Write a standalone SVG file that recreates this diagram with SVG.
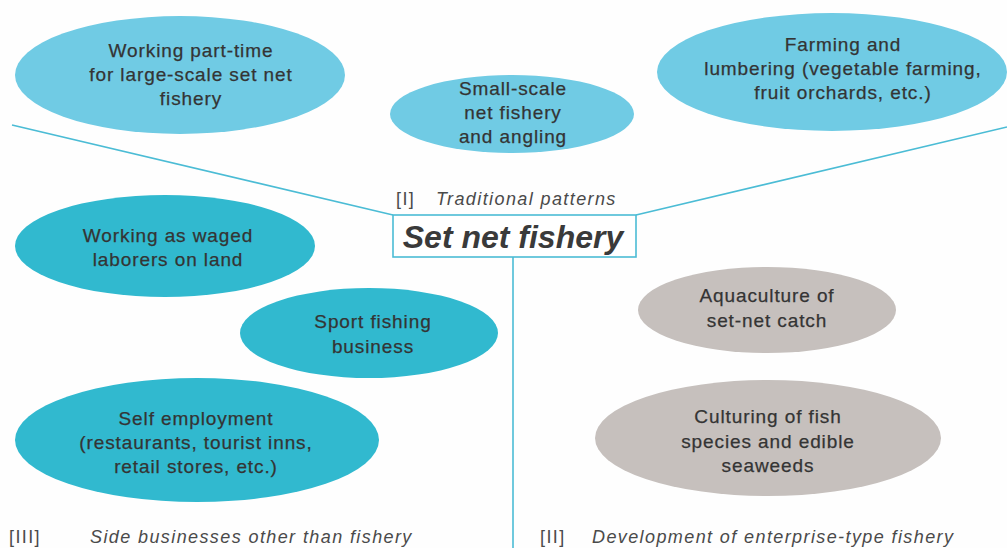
<svg xmlns="http://www.w3.org/2000/svg" width="1007" height="548" viewBox="0 0 1007 548">
  <style>
    .bg { fill: #fefefe; }
    .light { fill: #70cbe4; }
    .teal { fill: #31b9cf; }
    .gray { fill: #c6c0bd; }
    .lbl { font-family: "Liberation Sans", Arial, sans-serif; font-size: 19px; fill: #343434; text-anchor: middle; letter-spacing: 0.9px; stroke: #343434; stroke-width: 0.25px; }
    .cat { font-family: "Liberation Sans", Arial, sans-serif; font-size: 18px; fill: #4a4a4a; letter-spacing: 1.4px; }
    .it { font-style: italic; }
    .title { font-family: "Liberation Sans", Arial, sans-serif; font-size: 32px; font-weight: bold; font-style: italic; fill: #3a3a3a; text-anchor: middle; }
    .conn { stroke: #4bbcd5; stroke-width: 1.6; fill: none; }
  </style>
  <rect class="bg" x="0" y="0" width="1007" height="548"/>

  <!-- connectors from the central box -->
  <g id="connectors">
    <line class="conn" x1="12" y1="125" x2="393" y2="215"/>
    <line class="conn" x1="1007" y1="127" x2="636" y2="215"/>
    <line class="conn" x1="513" y1="257" x2="513" y2="548"/>
  </g>

  <!-- central node -->
  <g id="center">
    <rect x="393" y="215" width="243" height="42" fill="#ffffff" stroke="#4bbcd5" stroke-width="1.6"/>
    <text class="title" x="513" y="248">Set net fishery</text>
  </g>

  <!-- group I : traditional patterns -->
  <g id="part-time">
    <ellipse class="light" cx="180" cy="75" rx="165" ry="59"/>
    <text class="lbl" x="191" y="57">Working part-time</text>
    <text class="lbl" x="191" y="81">for large-scale set net</text>
    <text class="lbl" x="191" y="105">fishery</text>
  </g>
  <g id="small-scale">
    <ellipse class="light" cx="512" cy="114" rx="122" ry="39"/>
    <text class="lbl" x="513" y="95">Small-scale</text>
    <text class="lbl" x="513" y="119">net fishery</text>
    <text class="lbl" x="513" y="143">and angling</text>
  </g>
  <g id="farming">
    <ellipse class="light" cx="832" cy="72" rx="175" ry="59"/>
    <text class="lbl" x="843" y="51">Farming and</text>
    <text class="lbl" x="843" y="75">lumbering (vegetable farming,</text>
    <text class="lbl" x="843" y="99">fruit orchards, etc.)</text>
  </g>
  <g id="label-I">
    <text class="cat" x="396" y="205">[I]</text>
    <text class="cat it" x="436" y="205">Traditional patterns</text>
  </g>

  <!-- group III : side businesses -->
  <g id="waged">
    <ellipse class="teal" cx="165" cy="246" rx="150" ry="51"/>
    <text class="lbl" x="168" y="242">Working as waged</text>
    <text class="lbl" x="168" y="266">laborers on land</text>
  </g>
  <g id="sport">
    <ellipse class="teal" cx="369" cy="333" rx="129" ry="45"/>
    <text class="lbl" x="373" y="328">Sport fishing</text>
    <text class="lbl" x="373" y="353">business</text>
  </g>
  <g id="self-employment">
    <ellipse class="teal" cx="197" cy="440" rx="182" ry="62"/>
    <text class="lbl" x="196" y="425">Self employment</text>
    <text class="lbl" x="196" y="449">(restaurants, tourist inns,</text>
    <text class="lbl" x="196" y="473">retail stores, etc.)</text>
  </g>
  <g id="label-III">
    <text class="cat" x="9" y="543">[III]</text>
    <text class="cat it" x="90" y="543">Side businesses other than fishery</text>
  </g>

  <!-- group II : enterprise-type development -->
  <g id="aquaculture">
    <ellipse class="gray" cx="767" cy="310" rx="129" ry="43"/>
    <text class="lbl" x="767" y="302">Aquaculture of</text>
    <text class="lbl" x="767" y="327">set-net catch</text>
  </g>
  <g id="culturing">
    <ellipse class="gray" cx="768" cy="438" rx="173" ry="58"/>
    <text class="lbl" x="768" y="423">Culturing of fish</text>
    <text class="lbl" x="768" y="448">species and edible</text>
    <text class="lbl" x="768" y="472">seaweeds</text>
  </g>
  <g id="label-II">
    <text class="cat" x="540" y="543">[II]</text>
    <text class="cat it" x="592" y="543">Development of enterprise-type fishery</text>
  </g>
</svg>
